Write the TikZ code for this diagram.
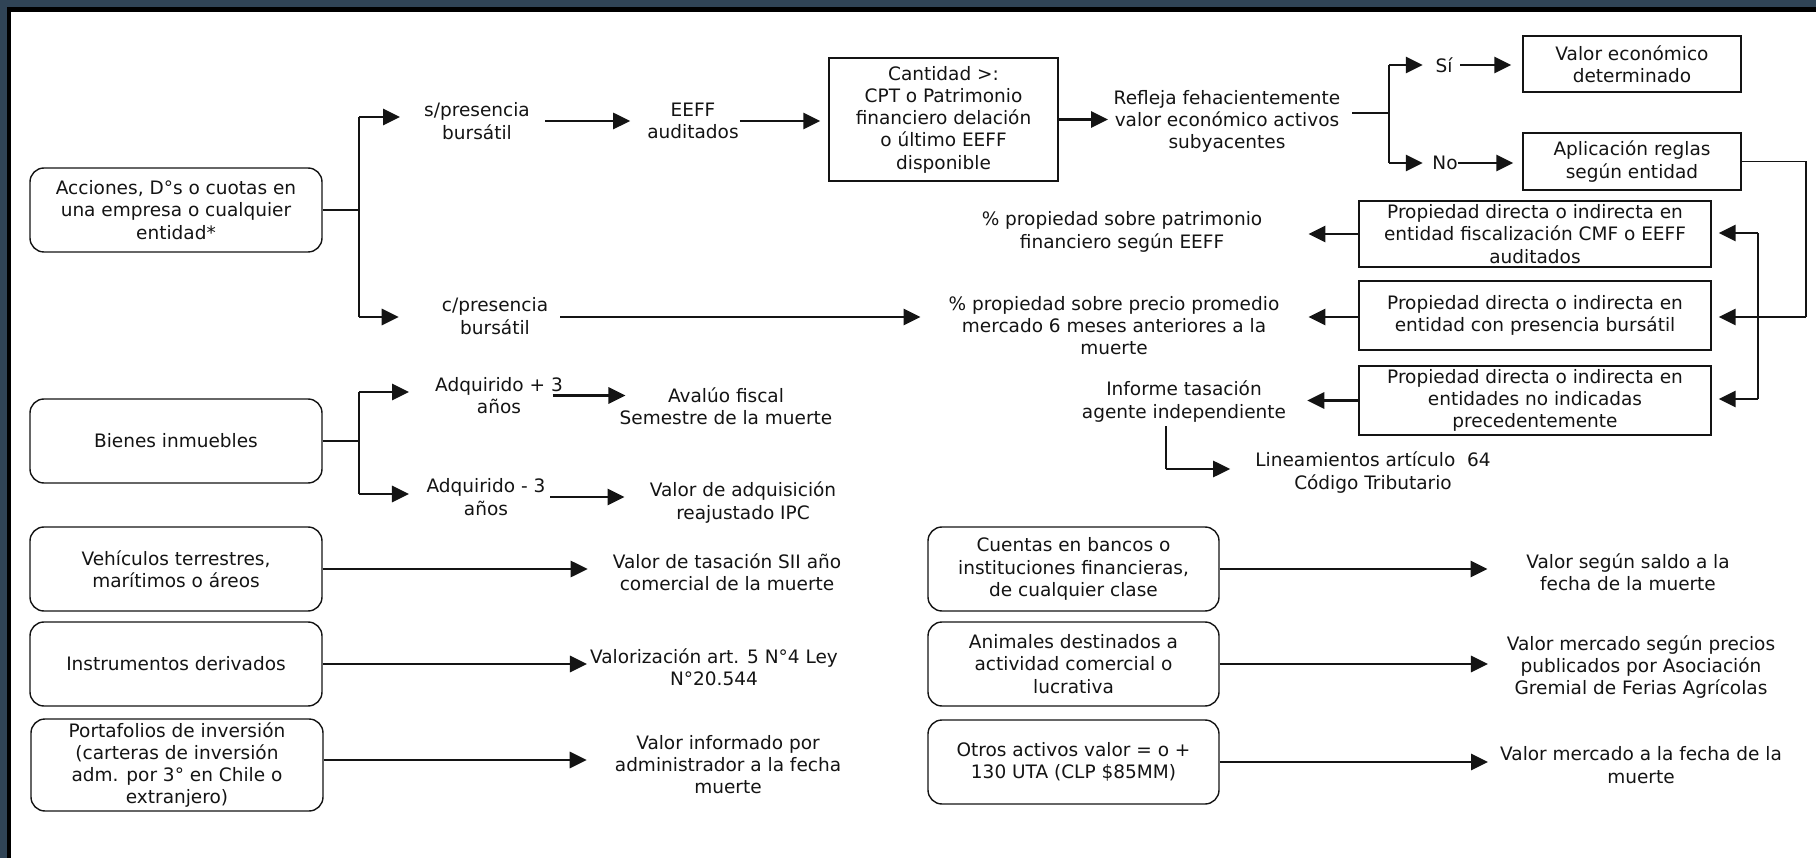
\documentclass[tikz,border=0pt]{standalone}
\usepackage{fontspec}
\setmainfont{DejaVu Sans}
\usetikzlibrary{arrows.meta}
\definecolor{frameblue}{RGB}{48,68,86}
\definecolor{ink}{RGB}{20,20,20}
\newcommand{\dfont}{\fontsize{18.5}{22.3}\selectfont}
\begin{document}
\begin{tikzpicture}[x=1pt,y=-1pt,
  tx/.style={align=center, inner sep=0pt, font=\dfont, text=ink},
  rbox/.style={draw=ink, line width=1.4pt, rounded corners=14pt, align=center, inner sep=0pt, font=\dfont, text=ink, minimum width=292pt, minimum height=84pt},
  sbox/.style={draw=ink, line width=1.4pt, align=center, inner sep=0pt, font=\dfont, text=ink},
  thinln/.style={draw=ink, line width=1.3pt},
  arr/.style={draw=ink, line width=2.8pt, -{Triangle[length=17pt,width=16pt]}},
]
% background and frame
\useasboundingbox (0,0) rectangle (1816,858);
\fill[white] (-5,-5) rectangle (1840,880);
\fill[frameblue] (-5,-5) rectangle (1840,7);
\fill[frameblue] (-5,-5) rectangle (7,880);
\fill[black] (7,7) rectangle (1840,12);
\fill[black] (7,7) rectangle (11,880);

% left boxes
\node[rbox] (acc) at (176,210) {Acciones, D°s o cuotas en\\una empresa o cualquier\\entidad*};
\node[rbox] (bien) at (176,441) {Bienes inmuebles};
\node[rbox] (veh) at (176,569) {Vehículos terrestres,\\marítimos o áreos};
\node[rbox] (inst) at (176,664) {Instrumentos derivados};
\node[rbox, minimum height=92pt] (port) at (177,765) {Portafolios de inversión\\(carteras de inversión\\adm. por 3° en Chile o\\extranjero)};
% right rounded boxes
\node[rbox, minimum width=291pt] (cuen) at (1073.5,569) {Cuentas en bancos o\\instituciones financieras,\\de cualquier clase};
\node[rbox, minimum width=291pt] (anim) at (1073.5,664) {Animales destinados a\\actividad comercial o\\lucrativa};
\node[rbox, minimum width=291pt] (otros) at (1073.5,762) {Otros activos valor = o +\\130 UTA (CLP \$85MM)};
% square boxes
\node[sbox, minimum width=229pt, minimum height=123pt] (cant) at (943.5,119.5) {Cantidad >:\\CPT o Patrimonio\\financiero delación\\o último EEFF\\disponible};
\node[sbox, minimum width=218pt, minimum height=56pt] (valeco) at (1632,64) {Valor económico\\determinado};
\node[sbox, minimum width=218pt, minimum height=57pt] (aplic) at (1632,161.5) {Aplicación reglas\\según entidad};
\node[sbox, minimum width=352pt, minimum height=66pt] (prop1) at (1535,234) {Propiedad directa o indirecta en\\entidad fiscalización CMF o EEFF\\auditados};
\node[sbox, minimum width=352pt, minimum height=69pt] (prop2) at (1535,315.5) {Propiedad directa o indirecta en\\entidad con presencia bursátil};
\node[sbox, minimum width=352pt, minimum height=69pt] (prop3) at (1535,400.5) {Propiedad directa o indirecta en\\entidades no indicadas\\precedentemente};

% text nodes
\node[tx] (spres) at (477,121) {s/presencia\\bursátil};
\node[tx] (eeff) at (693,121) {EEFF\\auditados};
\node[tx] (refl) at (1227,121.5) {Refleja fehacientemente\\valor económico activos\\subyacentes};
\node[tx] (si) at (1444,65) {Sí};
\node[tx] (no) at (1445,163) {No};
\node[tx] (pat) at (1122,232) {\% propiedad sobre patrimonio\\financiero según EEFF};
\node[tx] (cpres) at (495,316) {c/presencia\\bursátil};
\node[tx] (prom) at (1114,325.5) {\% propiedad sobre precio promedio\\mercado 6 meses anteriores a la\\muerte};
\node[tx] (inf) at (1184,401.5) {Informe tasación\\agente independiente};
\node[tx] (lin) at (1373,472.5) {Lineamientos artículo\ \ 64\\Código Tributario};
\node[tx] (adq1) at (499,395.5) {Adquirido + 3\\años};
\node[tx] (adq2) at (486,497) {Adquirido - 3\\años};
\node[tx] (aval) at (726,406) {Avalúo fiscal\\Semestre de la muerte};
\node[tx] (vadq) at (743,502.5) {Valor de adquisición\\reajustado IPC};
\node[tx] (vtas) at (727,572.5) {Valor de tasación SII año\\comercial de la muerte};
\node[tx] (valz) at (714,667.5) {Valorización art. 5 N°4 Ley\\N°20.544};
\node[tx] (vinf) at (728,764.5) {Valor informado por\\administrador a la fecha\\muerte};
\node[tx] (vsal) at (1628,572.5) {Valor según saldo a la\\fecha de la muerte};
\node[tx] (vmer) at (1641,667) {Valor mercado según precios\\publicados por Asociación\\Gremial de Ferias Agrícolas};
\node[tx] (vmf) at (1641,765) {Valor mercado a la fecha de la\\muerte};

% junction coordinates
\coordinate (ja) at (359,210);
\coordinate (ja1) at (359,117);
\coordinate (ja2) at (359,317);
\coordinate (jb) at (1389,113);
\coordinate (jb1) at (1389,65);
\coordinate (jb2) at (1389,163);
\coordinate (jr) at (1806,317);
\coordinate (ji1) at (1758,233);
\coordinate (ji2) at (1758,399);
\coordinate (jl) at (1166,469);
\coordinate (jc) at (359,441);
\coordinate (jc1) at (359,392);
\coordinate (jc2) at (359,494);
\coordinate (jp) at ([yshift=5pt]port.east);

% Acciones branch
\draw[thinln] (acc.east) -- (ja);
\draw[thinln] (ja1) -- (ja2);
\draw[arr, shorten >=24pt] (ja1) -- (spres.west |- ja1);
\draw[arr, shorten >=43pt] (ja2) -- (cpres.west |- ja2);
\draw[arr, shorten <=15pt, shorten >=17pt] (spres.east) -- (eeff.west);
\draw[arr, shorten <=1pt, shorten >=8pt] (eeff.east) -- (cant.west |- eeff.east);
\draw[arr, shorten >=5.5pt] (cant.east) -- (refl.west |- cant.east);
\draw[thinln, shorten <=12pt] (refl.east |- jb) -- (jb);
\draw[thinln] (jb1) -- (jb2);
\draw[arr, shorten >=12.5pt] (jb1) -- (si.west |- jb1);
\draw[arr, shorten >=9.4pt] (jb2) -- (no.west |- jb2);
\draw[arr, shorten <=7.5pt, shorten >=11pt] (si.east) -- (valeco.west |- si.east);
\draw[arr, shorten >=9pt] (no.east) -- (aplic.west |- no.east);
\draw[thinln] (aplic.east) -| (jr);
\draw[arr, shorten >=7pt] (jr) -- (prop2.east |- jr);
\draw[thinln] (ji1) -- (ji2);
\draw[arr, shorten >=7pt] (ji1) -- (prop1.east |- ji1);
\draw[arr, shorten >=7pt] (ji2) -- (prop3.east |- ji2);
\draw[arr, shorten >=46pt] (prop1.west) -- (pat.east |- prop1.west);
\draw[arr, shorten >=29pt] (prop2.west |- jr) -- (prom.east |- jr);
\draw[arr, shorten >=21pt] (prop3.west) -- (inf.east |- prop3.west);
\draw[thinln, shorten <=4pt] (jl |- inf.south) -- (jl);
\draw[arr, shorten >=25pt] (jl) -- (lin.west |- jl);
\draw[arr, shorten <=12pt, shorten >=28pt] (cpres.east |- ja2) -- (prom.west |- ja2);

% Bienes branch
\draw[thinln] (bien.east) -- (jc);
\draw[thinln] (jc1) -- (jc2);
\draw[arr, shorten >=26pt] (jc1) -- (adq1.west |- jc1);
\draw[arr, shorten >=17.5pt] (jc2) -- (adq2.west |- jc2);
\draw[arr, shorten <=-10pt, shorten >=-6pt] (adq1.east) -- (aval.west |- adq1.east);
\draw[arr, shorten <=4.5pt, shorten >=25pt] (adq2.east) -- (vadq.west |- adq2.east);

% simple rows
\draw[arr, shorten >=25pt] (veh.east) -- (vtas.west |- veh.east);
\draw[arr, shorten >=3pt] (inst.east) -- (valz.west |- inst.east);
\draw[arr, shorten >=28pt] (jp) -- (vinf.west |- jp);
\draw[arr, shorten >=38.6pt] (cuen.east) -- (vsal.west |- cuen.east);
\draw[arr, shorten >=18.7pt] (anim.east) -- (vmer.west |- anim.east);
\draw[arr, shorten >=12pt] (otros.east) -- (vmf.west |- otros.east);
\end{tikzpicture}
\end{document}
